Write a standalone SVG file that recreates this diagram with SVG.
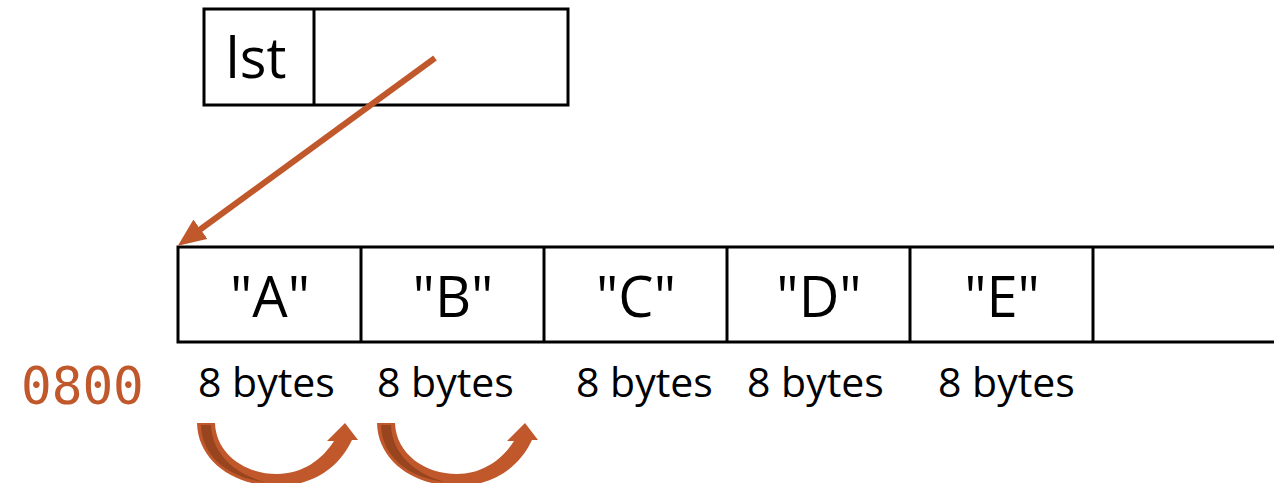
<svg xmlns="http://www.w3.org/2000/svg" width="1274" height="483" viewBox="0 0 1274 483">
<style>
.box{fill:#fff;stroke:#000;stroke-width:3}
.div{stroke:#000;stroke-width:3}
.cell{font-family:"Open Sans","Liberation Sans",sans-serif;font-size:56px;fill:#000;text-anchor:middle}
.lbl{font-family:"Open Sans","Liberation Sans",sans-serif;font-size:41px;fill:#000}
.addr{font-family:"DejaVu Sans Mono","Liberation Mono",monospace;font-size:51px;fill:#C0582B}
.ptr{stroke:#C0582B;stroke-width:6;fill:none}
.arc{fill:#C0582B}
.arcdark{fill:#98441F}
</style>
<defs>
<marker id="ah" viewBox="0 0 28 24" refX="8" refY="12" markerWidth="28" markerHeight="24" markerUnits="userSpaceOnUse" orient="auto">
<path d="M0,0 L28,12 L0,24 Z" fill="#C0582B"/>
</marker>
<g id="hop">
<path class="arc" d="M197,423 L215,423 C216,454 245,474 277,474 C302,474 322,460 334,441 L327,441 L345,423 L358,440 L352,440 C338,470 310,486 277,486 C235,486 198,462 197,423 Z"/>
<path class="arcdark" d="M201,425 L211,425 C212,454 235,474 265,482 C230,478 202,458 201,425 Z"/>
</g>
</defs>
<rect width="1274" height="483" fill="#fff"/>
<g id="lst">
<rect class="box" x="204" y="9" width="364" height="96"/>
<line class="div" x1="314" y1="9" x2="314" y2="105"/>
<text class="cell" x="256" y="78" font-size="55">lst</text>
</g>
<g id="array">
<rect class="box" x="178" y="247" width="1110" height="95"/>
<line class="div" x1="361" y1="247" x2="361" y2="342"/>
<line class="div" x1="544" y1="247" x2="544" y2="342"/>
<line class="div" x1="727" y1="247" x2="727" y2="342"/>
<line class="div" x1="910" y1="247" x2="910" y2="342"/>
<line class="div" x1="1093" y1="247" x2="1093" y2="342"/>
<text class="cell" x="270" y="317">"A"</text>
<text class="cell" x="453" y="317">"B"</text>
<text class="cell" x="636" y="317">"C"</text>
<text class="cell" x="819" y="317">"D"</text>
<text class="cell" x="1002" y="317">"E"</text>
</g>
<g id="labels">
<text class="addr" x="21" y="404">0800</text>
<text class="lbl" x="198" y="397">8 bytes</text>
<text class="lbl" x="377" y="397">8 bytes</text>
<text class="lbl" x="576" y="397">8 bytes</text>
<text class="lbl" x="747" y="397">8 bytes</text>
<text class="lbl" x="938" y="397">8 bytes</text>
</g>
<g id="connectors">
<line class="ptr" x1="435" y1="58" x2="194" y2="234" marker-end="url(#ah)"/>
<use href="#hop"/>
<use href="#hop" x="180"/>
</g>
</svg>
